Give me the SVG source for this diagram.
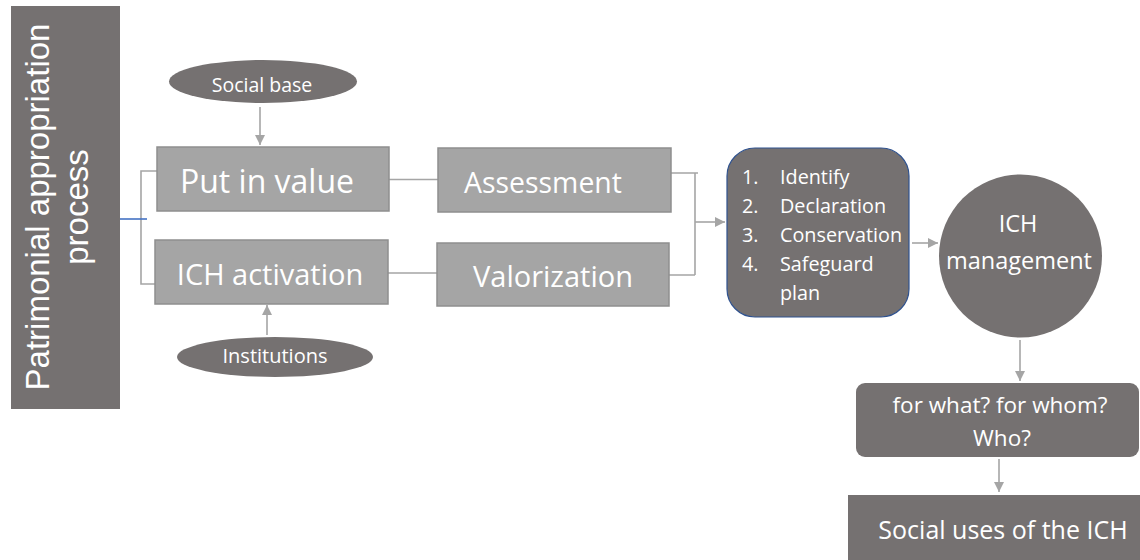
<svg xmlns="http://www.w3.org/2000/svg" width="1140" height="560" viewBox="0 0 1140 560">
  <style>
    .dark { fill: #757171; }
    .box { fill: #a5a5a5; stroke: #8f8f8f; stroke-width: 1.5; }
    .conn { fill: none; stroke: #a5a5a5; stroke-width: 1.6; }
    .lbl { font-family: "Open Sans", "Noto Sans", sans-serif; fill: #ffffff; text-anchor: middle; }
  </style>
  <defs>
    <marker id="arrow" markerUnits="userSpaceOnUse" markerWidth="12" markerHeight="12" refX="10" refY="5" orient="auto">
      <path d="M0,0 L10,5 L0,10 Z" fill="#a5a5a5"/>
    </marker>
  </defs>

  <rect width="1140" height="560" fill="#ffffff"/>

  <!-- connectors -->
  <g id="connectors">
    <path class="conn" d="M157,171 H141 V284 H155"/>
    <path d="M120,219 H147" fill="none" stroke="#4472c4" stroke-width="1.6"/>
    <path class="conn" d="M260,107 V145" marker-end="url(#arrow)"/>
    <path class="conn" d="M267,335 V305" marker-end="url(#arrow)"/>
    <path class="conn" d="M389,179.5 H438"/>
    <path class="conn" d="M388,273 H437"/>
    <path class="conn" d="M671,173 H698 M695,173 V275 M669,275 H695"/>
    <path class="conn" d="M695,222 H725" marker-end="url(#arrow)"/>
    <path class="conn" d="M912,243 H938" marker-end="url(#arrow)"/>
    <path class="conn" d="M1020,340 V381" marker-end="url(#arrow)"/>
    <path class="conn" d="M999,459 V492" marker-end="url(#arrow)"/>
  </g>

  <!-- process title bar -->
  <g id="process">
    <rect class="dark" x="11" y="6" width="109" height="403"/>
    <g transform="translate(0,207) rotate(-90)" font-family="'Liberation Sans', Arial, sans-serif" font-size="33" fill="#ffffff" text-anchor="middle">
      <text x="0" y="49">Patrimonial appropriation</text>
      <text x="0" y="88">process</text>
    </g>
  </g>

  <g id="social-base">
    <ellipse class="dark" cx="263" cy="81.5" rx="94" ry="21.5"/>
    <text class="lbl" x="262" y="92" font-size="19.5">Social base</text>
  </g>

  <g id="put-in-value">
    <rect class="box" x="157" y="147" width="232" height="64"/>
    <text class="lbl" x="267" y="193" font-size="32">Put in value</text>
  </g>

  <g id="ich-activation">
    <rect class="box" x="155" y="240" width="233" height="64"/>
    <text class="lbl" x="270" y="285" font-size="29">ICH activation</text>
  </g>

  <g id="institutions">
    <ellipse class="dark" cx="275" cy="357" rx="98" ry="20"/>
    <text class="lbl" x="275" y="363" font-size="20">Institutions</text>
  </g>

  <g id="assessment">
    <rect class="box" x="438" y="148" width="233" height="64"/>
    <text class="lbl" x="543" y="193" font-size="28.4">Assessment</text>
  </g>

  <g id="valorization">
    <rect class="box" x="437" y="243" width="232" height="63"/>
    <text class="lbl" x="553" y="287" font-size="29">Valorization</text>
  </g>

  <g id="steps">
    <rect class="dark" x="727" y="148" width="182" height="169" rx="28" stroke="#2f528f" stroke-width="1.2"/>
    <g font-family="'Open Sans', 'Noto Sans', sans-serif" font-size="19.8" fill="#ffffff">
      <text x="742" y="184">1.</text><text x="780" y="184">Identify</text>
      <text x="742" y="213">2.</text><text x="780" y="213">Declaration</text>
      <text x="742" y="242">3.</text><text x="780" y="242">Conservation</text>
      <text x="742" y="271">4.</text><text x="780" y="271">Safeguard</text>
      <text x="780" y="300">plan</text>
    </g>
  </g>

  <g id="ich-management">
    <circle class="dark" cx="1020.5" cy="256" r="81.5"/>
    <text class="lbl" x="1018" y="232" font-size="23.5">ICH</text>
    <text class="lbl" x="1019" y="269" font-size="23.5">management</text>
  </g>

  <g id="questions">
    <rect class="dark" x="856" y="383" width="283" height="74" rx="9"/>
    <text class="lbl" x="1000" y="413" font-size="22.5">for what? for whom?</text>
    <text class="lbl" x="1002" y="446" font-size="22.5">Who?</text>
  </g>

  <g id="social-uses">
    <rect class="dark" x="848" y="495" width="300" height="70"/>
    <text class="lbl" x="1003" y="539" font-size="25">Social uses of the ICH</text>
  </g>
</svg>
